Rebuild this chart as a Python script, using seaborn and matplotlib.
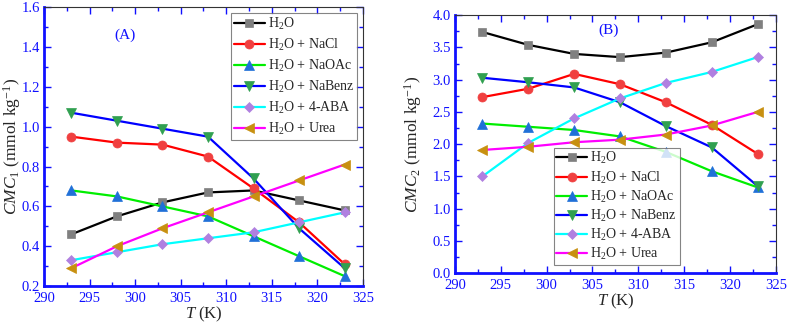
import numpy as np
import pandas as pd
import matplotlib
matplotlib.use("Agg")
import matplotlib.pyplot as plt
from matplotlib.ticker import MultipleLocator, AutoMinorLocator
import seaborn as sns

sns.set_theme(style="white")
plt.rcParams['font.family'] = ['Liberation Serif', 'DejaVu Serif']
plt.rcParams['mathtext.fontset'] = 'custom'
plt.rcParams['mathtext.rm'] = 'Liberation Serif'
plt.rcParams['mathtext.it'] = 'Liberation Serif:italic'

T = [293, 298, 303, 308, 313, 318, 323]
labels = [r'H$_2$O', r'H$_2$O + NaCl', r'H$_2$O + NaOAc', r'H$_2$O + NaBenz',
          r'H$_2$O + 4-ABA', r'H$_2$O + Urea']

cmc1_h2o = [0.46, 0.55, 0.62, 0.67, 0.68, 0.63, 0.58]
cmc1_nacl = [0.95, 0.92, 0.91, 0.85, 0.69, 0.52, 0.31]
cmc1_naoac = [0.68, 0.65, 0.60, 0.55, 0.45, 0.35, 0.25]
cmc1_nabenz = [1.07, 1.03, 0.99, 0.95, 0.74, 0.49, 0.29]
cmc1_aba = [0.33, 0.37, 0.41, 0.44, 0.47, 0.52, 0.57]
cmc1_urea = [0.29, 0.40, 0.49, 0.57, 0.65, 0.73, 0.81]

cmc2_h2o = [3.74, 3.54, 3.40, 3.35, 3.42, 3.58, 3.86]
cmc2_nacl = [2.73, 2.86, 3.09, 2.93, 2.65, 2.30, 1.85]
cmc2_naoac = [2.32, 2.27, 2.22, 2.12, 1.88, 1.58, 1.33]
cmc2_nabenz = [3.03, 2.96, 2.88, 2.65, 2.28, 1.95, 1.35]
cmc2_aba = [1.50, 2.02, 2.40, 2.71, 2.95, 3.12, 3.35]
cmc2_urea = [1.91, 1.96, 2.03, 2.07, 2.15, 2.29, 2.50]

line_colors = ['black', '#ff0000', '#00ee00', '#0000ff', '#00ffff', '#ff00ff']
marker_colors = ['#808080', '#f04040', '#2070d8', '#30a050', '#b080e0', '#c89010']
markers = ['s', 'o', '^', 'v', 'D', '<']
msizes = [5.5, 6.5, 7, 7, 5.5, 7]

blue = '#1010ff'

fig = plt.figure(figsize=(7.87, 3.24), dpi=100)
axA = fig.add_axes([0.056, 0.117, 0.405, 0.861])
axB = fig.add_axes([0.578, 0.157, 0.408, 0.796])


def draw(ax, series, ylabel, ylim, ymajor, legend_kw, tag, tagpos, ylab_x):
    for s, lab, lc, mc, mk, ms in zip(series, labels, line_colors, marker_colors, markers, msizes):
        sns.lineplot(x=T, y=s, ax=ax, color=lc, lw=1.6, marker=mk, markersize=ms,
                     markerfacecolor=mc, markeredgecolor=mc, markeredgewidth=0.5,
                     label=lab)
    ax.set_xlim(290, 325)
    ax.set_ylim(*ylim)
    ax.xaxis.set_major_locator(MultipleLocator(5))
    ax.xaxis.set_minor_locator(AutoMinorLocator(2))
    ax.yaxis.set_major_locator(MultipleLocator(ymajor))
    ax.yaxis.set_minor_locator(AutoMinorLocator(2))
    ax.yaxis.set_major_formatter(matplotlib.ticker.FormatStrFormatter('%.1f'))
    for sp in ['left', 'bottom']:
        ax.spines[sp].set_color(blue)
        ax.spines[sp].set_linewidth(2.0)
    for sp in ['top', 'right']:
        ax.spines[sp].set_color('#333333')
        ax.spines[sp].set_linewidth(0.8)
    ax.tick_params(which='both', direction='in', top=True, right=True)
    ax.tick_params(which='major', length=5, width=1.0)
    ax.tick_params(which='minor', length=3, width=1.0)
    ax.tick_params(axis='both', which='both', labelsize=10.5, labelcolor=blue)
    ax.tick_params(axis='y', which='both', left=True, color=blue, pad=3)
    ax.tick_params(axis='x', which='both', bottom=True, color=blue, pad=4)
    ax.set_xlabel(r'$\it{T}$ (K)', fontsize=12, labelpad=0)
    ax.set_ylabel(ylabel, fontsize=12.5)
    ax.yaxis.set_label_coords(ylab_x, 0.5)
    leg = ax.legend(fontsize=10, frameon=True, fancybox=False, edgecolor='#666666',
                    handlelength=2.2, handletextpad=0.25,
                    borderpad=0.2, borderaxespad=0.4, **legend_kw)
    leg.get_frame().set_linewidth(0.8)
    ax.text(tagpos[0], tagpos[1], tag, transform=ax.transAxes, color=blue,
            fontsize=11, ha='center', va='center')
    ax.grid(False)


draw(axA, [cmc1_h2o, cmc1_nacl, cmc1_naoac, cmc1_nabenz, cmc1_aba, cmc1_urea],
     r'$\it{CMC}_1$ (mmol kg$^{-1}$)', (0.2, 1.6), 0.2,
     dict(loc='upper right', labelspacing=0.36), '(A)', (0.255, 0.9), -0.066)
draw(axB, [cmc2_h2o, cmc2_nacl, cmc2_naoac, cmc2_nabenz, cmc2_aba, cmc2_urea],
     r'$\it{CMC}_2$ (mmol kg$^{-1}$)', (0.0, 4.0), 0.5,
     dict(loc='lower left', bbox_to_anchor=(0.29, 0.01), labelspacing=0.22),
     '(B)', (0.48, 0.94), -0.095)

fig.savefig('out.png', dpi=100)
